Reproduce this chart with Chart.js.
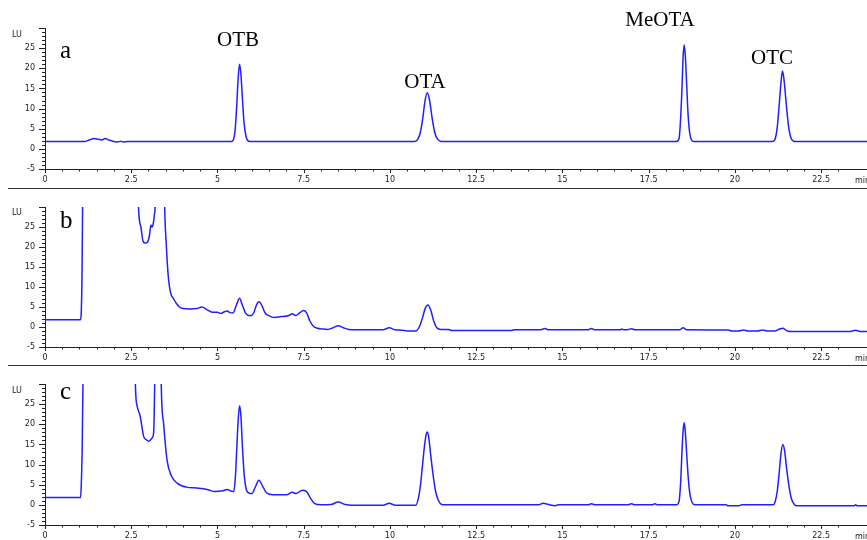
<!DOCTYPE html>
<html>
<head>
<meta charset="utf-8">
<script src="https://cdn.jsdelivr.net/npm/chart.js@4.4.0/dist/chart.umd.min.js"></script>
<style>
  html, body { margin: 0; padding: 0; background: #fff; }
  body { width: 867px; height: 540px; position: relative; overflow: hidden; }
  canvas { position: absolute; left: 0; }
  .sep { position: absolute; left: 8px; width: 859px; height: 1px; background: #333; }
  .small { position: absolute; font: 8px "DejaVu Sans"; line-height: 8px; color: #222; white-space: nowrap; }
  .tag { position: absolute; font: 25px "Liberation Serif"; line-height: 25px; color: #000; }
  .peak { position: absolute; width: 100px; margin-left: -50px; text-align: center;
          font: 21px "Liberation Serif"; line-height: 21px; color: #000; }
</style>
</head>
<body>
<canvas id="panelA" width="867" height="188" style="top:0px"></canvas>
<canvas id="panelB" width="867" height="178" style="top:188px"></canvas>
<canvas id="panelC" width="867" height="179" style="top:365px"></canvas>

<div class="sep" style="top:188px"></div>
<div class="sep" style="top:365px"></div>

<div class="small" style="left:12px; top:31px">LU</div>
<div class="small" style="left:12px; top:209px">LU</div>
<div class="small" style="left:12px; top:387px">LU</div>
<div class="small" style="left:855px; top:177px">min</div>
<div class="small" style="left:855px; top:355px">min</div>
<div class="small" style="left:855px; top:533px">min</div>

<div class="tag" style="left:60px; top:37px">a</div>
<div class="tag" style="left:60px; top:207px">b</div>
<div class="tag" style="left:60px; top:378px">c</div>

<div class="peak" style="left:238px; top:29px">OTB</div>
<div class="peak" style="left:425px; top:71px">OTA</div>
<div class="peak" style="left:660px; top:9px">MeOTA</div>
<div class="peak" style="left:772px; top:47px">OTC</div>

<script>
// 크로마토그램 데이터 (retention time [min], signal [LU])
const timeA = [0, 1.15, 1.28, 1.42, 1.55, 1.65, 1.75, 1.85, 1.97, 2.1, 2.2, 2.27, 2.4,
  5.40, 5.46, 5.52, 5.56, 5.60, 5.64, 5.68, 5.72, 5.77, 5.83, 5.90, 5.98,
  10.70, 10.80, 10.88, 10.95, 11.01, 11.08, 11.15, 11.22, 11.30, 11.38, 11.48, 11.56,
  18.30, 18.38, 18.43, 18.47, 18.50, 18.53, 18.56, 18.60, 18.64, 18.69, 18.75, 18.82,
  21.08, 21.16, 21.23, 21.29, 21.34, 21.38, 21.42, 21.48, 21.55, 21.62, 21.70, 21.78, 23.83];
const lumA = [1.8, 1.8, 2.2, 2.6, 2.4, 2.2, 2.6, 2.2, 1.9, 1.7, 1.9, 1.7, 1.8,
  1.8, 2.2, 5.5, 11, 17.5, 21, 18.5, 13, 6.5, 3.0, 1.9, 1.8,
  1.8, 2.3, 4.0, 7.5, 11.5, 13.9, 12, 7.8, 4.0, 2.4, 1.85, 1.8,
  1.8, 2.5, 8, 16, 23, 25.8, 23.5, 16.5, 9, 4, 2.1, 1.8,
  1.8, 2.3, 5.5, 11.5, 16.8, 19.3, 17.5, 12, 6, 2.8, 1.9, 1.8, 1.8];

const timeB = [0, 1.03, 1.05, 1.07, 1.09, 1.12, 2.65, 2.71, 2.78, 2.84,
  2.90, 2.97, 3.03, 3.07, 3.10, 3.13, 3.17, 3.20, 3.24, 3.42,
  3.47, 3.52, 3.57, 3.61, 3.66, 3.71, 3.80, 3.90, 4.00, 4.20,
  4.40, 4.55, 4.70, 4.85, 5.00, 5.10, 5.20, 5.28, 5.36, 5.45,
  5.55, 5.64, 5.72, 5.82, 5.95, 6.05, 6.13, 6.20, 6.28, 6.38,
  6.50, 6.65, 6.85, 7.05, 7.17, 7.27, 7.38, 7.49, 7.58, 7.68,
  7.78, 7.90, 8.05, 8.20, 8.35, 8.50, 8.65, 8.80, 9.00, 9.80,
  9.98, 10.15, 10.35, 10.50, 10.75, 10.85, 10.95, 11.02, 11.10, 11.18,
  11.27, 11.36, 11.48, 11.70, 11.80, 13.50, 13.60, 14.35, 14.49, 14.60,
  15.75, 15.84, 15.93, 16.68, 16.72, 16.78, 16.92, 17.00, 17.10, 18.40,
  18.50, 18.60, 19.82, 19.90, 20.10, 20.25, 20.38, 20.65, 20.80, 20.95,
  21.15, 21.30, 21.39, 21.50, 21.60, 23.35, 23.50, 23.62, 23.83];
const lumB = [1.8, 1.8, 3.5, 11, 30, 60, 60, 30, 25, 21.5,
  21, 21.2, 23, 25.5, 25, 25.5, 28, 32, 60, 60,
  30, 20, 13, 10, 8, 7.3, 6, 5, 4.6, 4.5,
  4.6, 5, 4.3, 3.7, 3.7, 3.4, 3.8, 4, 3.6, 3.5,
  5.5, 7.2, 5.5, 3.4, 2.8, 3.5, 5.5, 6.3, 5.5, 3.5,
  2.8, 2.4, 2.6, 2.8, 3.3, 2.9, 3.5, 4.1, 3.6, 1.5,
  0.2, -0.3, -0.5, -0.6, -0.2, 0.3, -0.2, -0.6, -0.7, -0.7,
  -0.2, -0.7, -0.8, -1.0, -1.0, 0, 2.5, 4.6, 5.5, 4.3,
  1.5, -0.2, -0.6, -0.6, -0.9, -0.9, -0.7, -0.7, -0.4, -0.7,
  -0.7, -0.4, -0.7, -0.7, -0.5, -0.7, -0.6, -0.45, -0.7, -0.7,
  -0.2, -0.7, -0.75, -1.0, -1.0, -0.75, -1.0, -1.0, -0.75, -1.0,
  -1.0, -0.5, -0.3, -0.9, -1.1, -1.1, -0.8, -1.1, -1.1];

const timeC = [0, 1.03, 1.05, 1.08, 1.10, 1.13, 2.58, 2.62, 2.67, 2.76,
  2.86, 2.93, 3.00, 3.07, 3.12, 3.15, 3.18, 3.22, 3.33, 3.37,
  3.44, 3.54, 3.66, 3.83, 4.10, 4.40, 4.60, 4.75, 4.90, 5.05,
  5.15, 5.28, 5.40, 5.47, 5.52, 5.56, 5.60, 5.64, 5.68, 5.72,
  5.77, 5.83, 5.90, 6.00, 6.10, 6.20, 6.30, 6.42, 6.60, 7.00,
  7.17, 7.28, 7.40, 7.49, 7.60, 7.70, 7.82, 8.00, 8.30, 8.50,
  8.70, 8.90, 9.80, 9.98, 10.15, 10.75, 10.82, 10.88, 10.94, 11.00,
  11.05, 11.08, 11.12, 11.18, 11.25, 11.32, 11.40, 11.50, 11.60, 14.30,
  14.44, 14.60, 14.78, 14.90, 15.75, 15.84, 15.95, 16.90, 17.00, 17.10,
  17.60, 17.68, 17.76, 18.30, 18.38, 18.43, 18.47, 18.50, 18.53, 18.56,
  18.60, 18.65, 18.70, 18.76, 18.85, 19.75, 19.80, 20.10, 20.20, 21.10,
  21.16, 21.23, 21.29, 21.34, 21.39, 21.44, 21.50, 21.57, 21.64, 21.73,
  21.80, 23.45, 23.50, 23.55, 23.83];
const lumC = [1.8, 1.8, 4.5, 15, 30, 60, 60, 30, 24.6, 22,
  17, 16.2, 15.8, 16.2, 16.8, 18, 30, 60, 60, 30,
  20, 11, 7.3, 5.4, 4.4, 4.2, 4.0, 3.7, 3.3, 3.4,
  3.5, 3.8, 3.4, 3.3, 7, 14, 21, 24.6, 22, 15,
  8, 4, 3.0, 2.8, 4.5, 6.1, 4.8, 3.0, 2.5, 2.5,
  3.1, 2.8, 3.4, 3.6, 3.1, 1.6, 0.3, 0, 0.1, 0.7,
  0.1, -0.1, -0.1, 0.4, -0.1, -0.1, 1.5, 4.5, 9.5, 14.5,
  17.5, 18.1, 17, 12.5, 7.5, 3.5, 1.2, 0.1, 0, 0,
  0.4, 0.1, -0.2, 0, 0, 0.3, 0, 0, 0.3, 0,
  0, 0.3, 0, 0, 0.8, 6, 14, 18.5, 20.4, 18.5,
  13, 6.5, 2.5, 0.6, 0, 0, -0.25, -0.25, 0, 0,
  0.6, 3.5, 8.5, 13, 15, 13.5, 9, 4.5, 1.5, 0,
  -0.25, -0.25, 0, -0.25, -0.25];

// 축 범위
const TIME_MAX = 23.83;
const LU_MIN = -5;
const LU_MAX = 30;

const AXIS_COLOR = '#222';
const TRACE_COLOR = '#1f1fff';
const tickFont = { family: 'DejaVu Sans', size: 8 };

const isMulti = (v, step) => Math.abs(v / step - Math.round(v / step)) < 1e-6;

// 눈금자 스타일 tick (major/minor 길이 다르게)
const rulerTicks = {
  id: 'rulerTicks',
  afterDraw(chart) {
    const { ctx, chartArea } = chart;
    const x = chart.scales.x;
    const y = chart.scales.y;
    ctx.save();
    ctx.strokeStyle = AXIS_COLOR;
    ctx.lineWidth = 1;
    ctx.beginPath();
    x.ticks.forEach(t => {
      const px = Math.round(x.getPixelForValue(t.value)) + 0.5;
      const len = isMulti(t.value, 2.5) ? 4 : 2.5;
      ctx.moveTo(px, chartArea.bottom);
      ctx.lineTo(px, chartArea.bottom + len);
    });
    y.ticks.forEach(t => {
      const py = Math.round(y.getPixelForValue(t.value)) + 0.5;
      const len = isMulti(t.value, 5) ? 6 : 3;
      ctx.moveTo(chartArea.left - len, py);
      ctx.lineTo(chartArea.left, py);
    });
    ctx.stroke();
    ctx.restore();
  }
};

function makePanel(canvasId, times, signal, topPad) {
  const canvas = document.getElementById(canvasId);
  const points = times.map((t, i) => ({ x: t, y: signal[i] }));

  return new Chart(canvas.getContext('2d'), {
    type: 'line',
    data: {
      datasets: [{
        data: points,
        borderColor: TRACE_COLOR,
        borderWidth: 1.5,
        pointRadius: 0,
        fill: false,
        cubicInterpolationMode: 'monotone'
      }]
    },
    options: {
      responsive: false,
      animation: false,
      devicePixelRatio: 1,
      events: [],
      layout: { padding: { top: topPad, left: 0, right: 0, bottom: 0 } },
      plugins: {
        legend: { display: false },
        tooltip: { enabled: false }
      },
      scales: {
        x: {
          type: 'linear',
          min: 0,
          max: TIME_MAX,
          grid: { display: true, drawOnChartArea: false, drawTicks: false },
          border: { display: true, color: AXIS_COLOR, width: 1 },
          afterBuildTicks: (scale) => {
            scale.ticks = scale.ticks.filter(t => isMulti(t.value, 0.5));
          },
          afterFit: (scale) => { scale.height = 19; },
          ticks: {
            stepSize: 0.5,
            autoSkip: false,
            maxRotation: 0,
            padding: 6,
            color: AXIS_COLOR,
            font: tickFont,
            callback: (v) => isMulti(v, 2.5) ? String(v) : ''
          }
        },
        y: {
          type: 'linear',
          min: LU_MIN,
          max: LU_MAX,
          grid: { display: true, drawOnChartArea: false, drawTicks: false },
          border: { display: true, color: AXIS_COLOR, width: 1 },
          afterFit: (scale) => { scale.width = 45; },
          ticks: {
            stepSize: 1,
            autoSkip: false,
            padding: 10,
            color: AXIS_COLOR,
            font: tickFont,
            callback: (v) => (isMulti(v, 5) && v < LU_MAX) ? String(v) : ''
          }
        }
      }
    },
    plugins: [rulerTicks]
  });
}

makePanel('panelA', timeA, lumA, 28);
makePanel('panelB', timeB, lumB, 19);
makePanel('panelC', timeC, lumC, 19);
</script>
</body>
</html>
